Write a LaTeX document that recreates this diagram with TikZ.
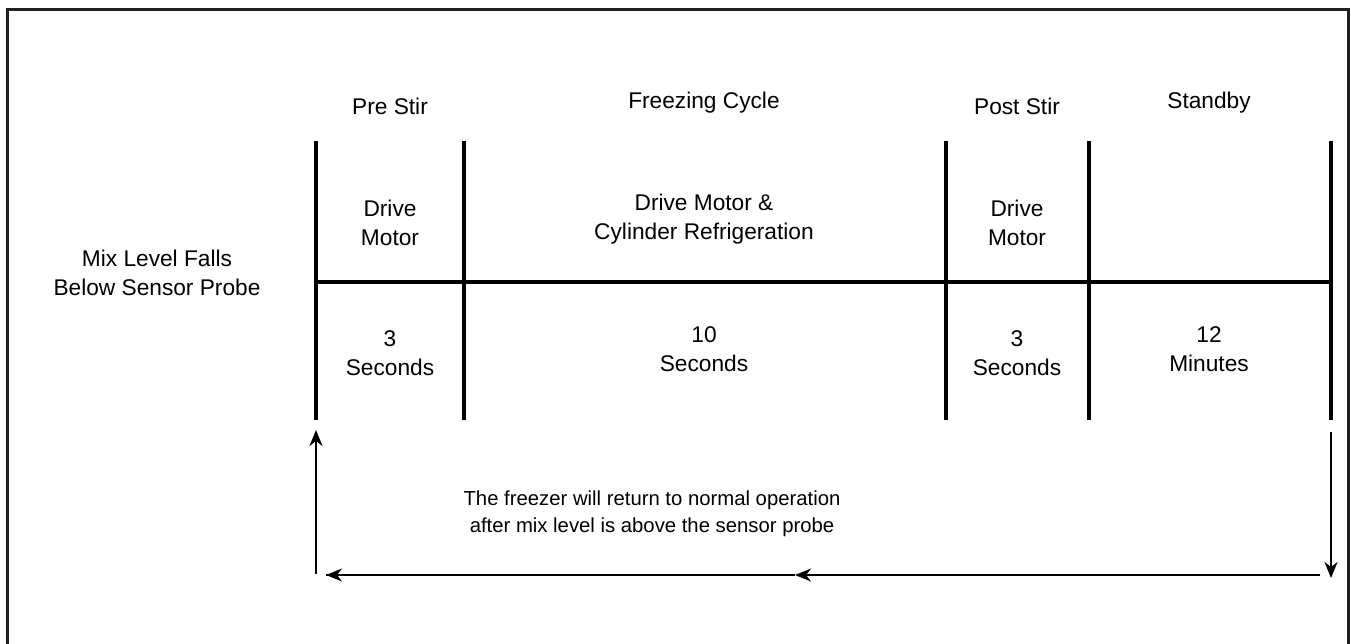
\documentclass[tikz,border=0pt]{standalone}
\usepackage{fontspec}
\setmainfont{Liberation Sans}
\usetikzlibrary{arrows.meta}
\definecolor{framec}{HTML}{231F20}
\begin{document}
\begin{tikzpicture}[x=1pt,y=-1pt,
  bar/.style={line width=4pt},
  framel/.style={line width=3pt,color=framec},
  thin/.style={line width=2pt},
  arr/.style={thin,-{Stealth[length=16pt,width=13pt,inset=5pt]}},
  lbl/.style={font=\fontsize{22.7}{29}\selectfont,align=center,inner sep=0pt},
  small/.style={font=\fontsize{20.3}{27}\selectfont,align=center,inner sep=0pt}]
\useasboundingbox (0,0) rectangle (1351,644);
\draw[framel] (7,644) -- (7,10) -- (1348,10) -- (1348,644);
% vertical bars
\foreach \n/\x in {a/316,b/464,c/946,d/1089,e/1331}{
  \coordinate (\n top) at (\x,141);
  \coordinate (\n bot) at (\x,420);
  \coordinate (\n mid) at (\x,282);
  \draw[bar] (\n top) -- (\n bot);
}
\draw[bar] (amid) -- (emid);
% headings
\node[lbl] (h1) at (390,106) {Pre Stir};
\node[lbl] (h2) at (704,103) {Freezing Cycle};
\node[lbl] (h3) at (1017,106) {Post Stir};
\node[lbl] (h4) at (1209,103) {Standby};
% upper row
\node[lbl] (u1) at (390,223) {Drive\\Motor};
\node[lbl] (u2) at (704,219) {Drive Motor \&\\Cylinder Refrigeration};
\node[lbl] (u3) at (1017,223) {Drive\\Motor};
% lower row
\node[lbl] (l1) at (390,353) {3\\Seconds};
\node[lbl] (l2) at (704,349) {10\\Seconds};
\node[lbl] (l3) at (1017,353) {3\\Seconds};
\node[lbl] (l4) at (1209,349) {12\\Minutes};
% left label
\node[lbl] (mix) at (157,273) {Mix Level Falls\\Below Sensor Probe};
% note
\node[small] (note) at (652,514) {The freezer will return to normal operation\\after mix level is above the sensor probe};
% return loop
\coordinate (rtop) at (1331,432);
\coordinate (rbot) at (1331,578);
\coordinate (bright) at (1320,575);
\coordinate (bmid) at (795,575);
\coordinate (bleft) at (326,575);
\coordinate (lbot) at (316,574);
\coordinate (ltop) at (316,430);
\draw[arr] (rtop) -- (rbot);
\draw[arr] (bright) -- (bmid);
\draw[thin] (bmid) -- (bleft);
\draw[arr] (bmid) -- (bleft);
\draw[arr] (lbot) -- (ltop);
\end{tikzpicture}
\end{document}
